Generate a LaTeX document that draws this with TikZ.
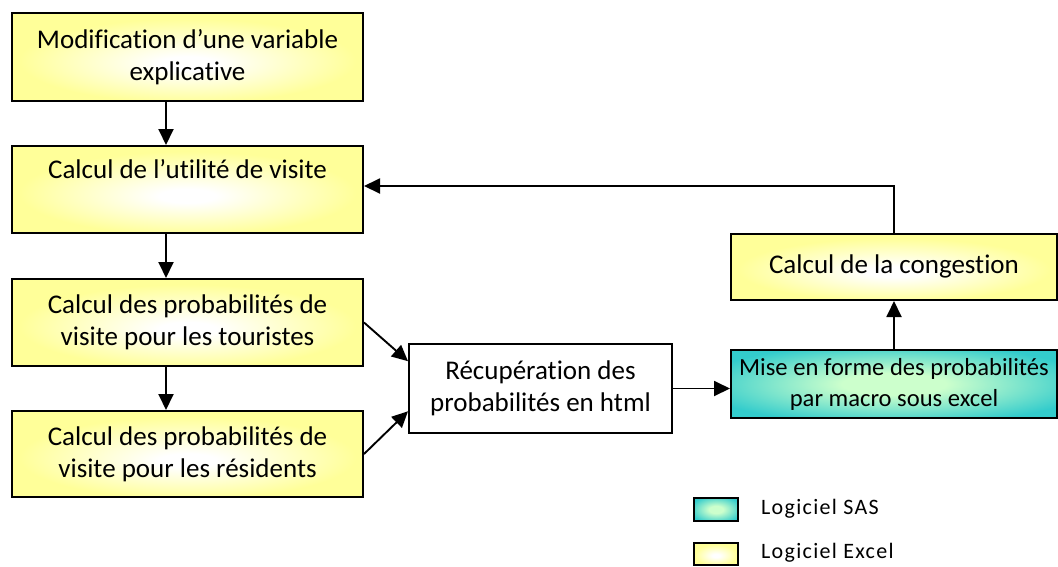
\documentclass[tikz,border=0pt]{standalone}
\usepackage{fontspec}
\setmainfont{Carlito}[Ligatures=CommonOff]
\usetikzlibrary{arrows.meta,calc}
\definecolor{xlyellow}{HTML}{FFFF99}
\definecolor{sasteal}{HTML}{33CCCC}
\definecolor{sasglowc}{HTML}{CCFFCC}
\pgfdeclareradialshading{excelglow}{\pgfpoint{0bp}{-4bp}}{color(0bp)=(white); color(4bp)=(white); color(24bp)=(xlyellow); color(50bp)=(xlyellow)}
\pgfdeclareradialshading{sasglow}{\pgfpoint{0bp}{0bp}}{color(0bp)=(sasglowc); color(8bp)=(sasglowc); color(30bp)=(sasteal); color(50bp)=(sasteal)}
\tikzset{
  box/.style={draw=black, line width=2pt, inner sep=0pt, align=center,
    font=\fontsize{27}{32}\selectfont},
  excel/.style={box, shading=excelglow},
  sas/.style={box, shading=sasglow, font=\fontsize{24.6}{31}\selectfont},
  plain/.style={box, fill=white},
  swatch/.style={draw=black, line width=2pt, inner sep=0pt},
  legtext/.style={anchor=west, inner sep=0pt,
    font=\fontsize{22}{26}\selectfont\addfontfeatures{LetterSpace=6}},
  flow/.style={line width=1.9pt, -{Triangle[length=16pt,width=15pt]}}
}
\begin{document}
\begin{tikzpicture}[x=1pt, y=-1pt]
\useasboundingbox (0,0) rectangle (1058,566);

% Excel processing chain
\node[excel, minimum width=351pt, minimum height=88pt] (modif) at (187.5,57)
  {Modification d’une variable\\explicative};
\node[excel, minimum width=351pt, minimum height=87pt] (util) at (187.5,189.5)
  {Calcul de l’utilité de visite\\\strut};
\node[excel, minimum width=351pt, minimum height=87pt] (tour) at (187.5,322.5)
  {Calcul des probabilités de\\visite pour les touristes};
\node[excel, minimum width=351pt, minimum height=86pt] (resid) at (187.5,454)
  {Calcul des probabilités de\\visite pour les résidents};

% Retrieval and formatting
\node[plain, minimum width=263pt, minimum height=89pt] (recup) at (540.5,388.5)
  {Récupération des\\probabilités en html};
\node[sas, minimum width=326pt, minimum height=68pt] (mise) at (894,384)
  {Mise en forme des probabilités\\par macro sous excel};
\node[excel, minimum width=326pt, minimum height=66pt] (cong) at (894,267)
  {\raisebox{6pt}{Calcul de la congestion}};

% Connectors: the vertical chain runs left of the box centres
\coordinate (spine) at (166,0);
\draw[flow] (modif.south -| spine) -- (util.north -| spine);
\draw[flow] (util.south -| spine) -- (tour.north -| spine);
\draw[flow] (tour.south -| spine) -- (resid.north -| spine);
\draw[flow] (tour.east) -- ($(recup.north west)!0.2!(recup.south west)$);
\draw[flow] (resid.east) -- ($(recup.north west)!0.75!(recup.south west)$);
\draw[flow] (recup.east) -- (recup.east -| mise.west);
\draw[flow] (mise) -- (cong);
\draw[flow] (cong.north) |- ($(util.east)+(0,-3.5)$);

% Legend
\node[swatch, shading=sasglow, minimum width=44pt, minimum height=23pt] (legsas) at (716,509.5) {};
\node[swatch, shading=excelglow, minimum width=44pt, minimum height=22pt] (legexcel) at (716,554) {};
\node[legtext] (legsastext) at (761,509) {Logiciel SAS};
\node[legtext] (legexceltext) at (761,553) {Logiciel Excel};
\end{tikzpicture}
\end{document}
